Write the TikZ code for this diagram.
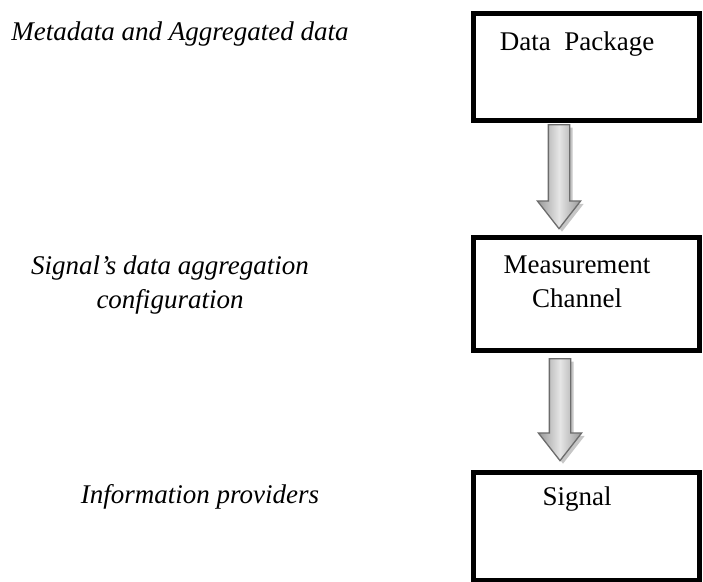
\documentclass[tikz,border=0pt]{standalone}
\usepackage{fontspec}
\setmainfont{Liberation Serif}
\usetikzlibrary{shapes.arrows,shadows}
\tikzset{
  box/.style={draw, line width=5pt, minimum width=226pt, inner sep=0pt, align=center,
    font=\fontsize{27}{34}\selectfont},
  blockarrow/.style={single arrow, shape border rotate=270, draw=gray!85!black, line width=1.3pt,
    inner sep=10pt, single arrow head extend=11pt, single arrow tip angle=76,
    left color=gray!80, right color=gray!80, middle color=gray!20,
    drop shadow={shadow xshift=3pt, shadow yshift=-3pt, fill=gray!45, opacity=1}},
  note/.style={font=\fontsize{27}{34}\selectfont\itshape, align=center}
}
\newcommand{\lft}{\hspace*{18pt}}
\begin{document}
\begin{tikzpicture}[x=1pt,y=-1pt]
  \useasboundingbox (0,0) rectangle (703,581);
  \node[box, anchor=north, text height=37pt, text depth=70pt] (P) at (586,11) {Data\ \ Package\lft};
  \node[box, anchor=north, text height=70pt, text depth=43pt] (C) at (586,235) {Measurement\lft\\Channel\lft};
  \node[box, anchor=north, text height=33pt, text depth=75pt] (S) at (586,470) {Signal\lft};
  \node[blockarrow, anchor=tail, minimum height=104pt] (A1) at ([xshift=-27pt,yshift=-1pt]P.south) {};
  \node[blockarrow, anchor=tail, minimum height=102pt] (A2) at ([xshift=-26pt,yshift=-5pt]C.south) {};
  \node[note] (MP) at (180,34) {Metadata and Aggregated data};
  \node[note] (MC) at (170,285) {Signal’s data aggregation\\configuration};
  \node[note] (MS) at (200,497) {Information providers};
\end{tikzpicture}
\end{document}
